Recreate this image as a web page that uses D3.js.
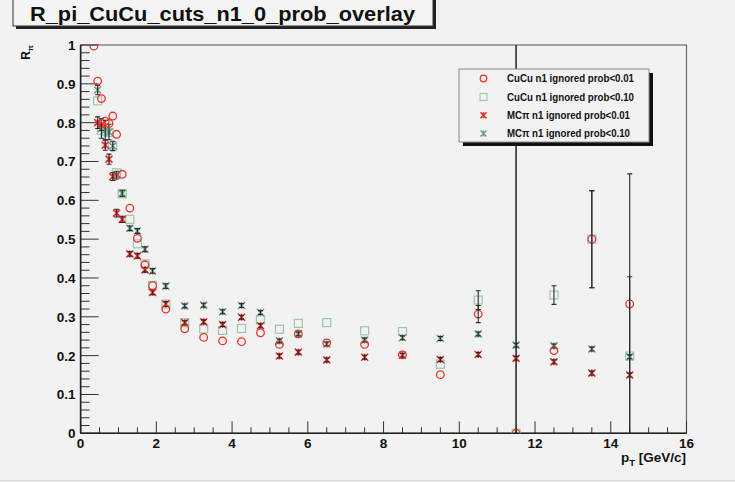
<!DOCTYPE html>
<html><head><meta charset="utf-8">
<script src="https://cdn.jsdelivr.net/npm/d3@7/dist/d3.min.js"></script>
<style>
html,body{margin:0;padding:0;background:#f2f2f2;}
svg{display:block;font-family:"Liberation Sans",Arial,Helvetica,sans-serif;}
</style></head>
<body>
<svg id="c" width="735" height="482"></svg>
<script>
// ---- data ----
const pT = [0.35,0.45,0.55,0.65,0.75,0.85,0.95,1.1,1.3,1.5,1.7,1.9,2.25,2.75,3.25,3.75,4.25,4.75,5.25,5.75,6.5,7.5,8.5,9.5,10.5,11.5,12.5,13.5,14.5];
const cucu01 = [0.997,0.907,0.862,0.804,0.798,0.817,0.770,0.667,0.580,0.502,0.434,0.380,0.320,0.269,0.247,0.238,0.236,0.259,0.229,0.256,0.233,0.229,0.202,0.151,0.307,0.0,0.213,0.500,0.333];
const cucu01Err = [0.01,0.01,0.01,0.01,0.01,0.01,0.01,0.008,0.008,0.008,0.006,0.006,0.006,0.005,0.005,0.005,0.005,0.006,0.006,0.006,0.006,0.006,0.008,0.008,0.022,1.5,0.012,0.125,0.335];
const cucu10 = [null,0.856,0.780,0.778,0.775,0.740,0.671,0.617,0.551,0.488,0.436,0.381,0.333,0.285,0.269,0.265,0.270,0.292,0.268,0.283,0.285,0.264,0.262,0.178,0.343,0.0,0.356,0.500,0.199];
const cucu10Err = [null,0.01,0.01,0.01,0.01,0.01,0.01,0.008,0.008,0.008,0.006,0.006,0.006,0.005,0.005,0.005,0.005,0.006,0.006,0.006,0.006,0.006,0.01,0.008,0.024,1.5,0.024,0.125,0.204];
const mc01 = [null,0.800,0.795,0.742,0.706,0.661,0.567,0.551,0.462,0.457,0.421,0.363,0.333,0.285,0.287,0.280,0.299,0.277,0.199,0.209,0.189,0.196,0.201,0.190,0.203,0.193,0.184,0.155,0.150];
const mc01Err = [null,0.015,0.015,0.013,0.013,0.01,0.01,0.008,0.006,0.006,0.006,0.006,0.006,0.005,0.005,0.005,0.005,0.005,0.005,0.005,0.005,0.005,0.005,0.005,0.005,0.005,0.005,0.005,0.005];
const mc10 = [null,0.884,0.785,0.781,0.776,0.740,0.665,0.618,0.528,0.521,0.474,0.418,0.379,0.328,0.330,0.313,0.329,0.311,0.238,0.256,0.230,0.240,0.246,0.244,0.256,0.227,0.225,0.217,0.197];
const mc10Err = [null,0.012,0.025,0.025,0.02,0.012,0.01,0.008,0.006,0.006,0.006,0.006,0.006,0.005,0.005,0.005,0.005,0.005,0.005,0.005,0.005,0.005,0.005,0.005,0.005,0.005,0.005,0.005,0.005];
const xTicks = [0,2,4,6,8,10,12,14,16];
const yTicks = [0,0.1,0.2,0.3,0.4,0.5,0.6,0.7,0.8,0.9,1];
const yTickLabels = ["0","0.1","0.2","0.3","0.4","0.5","0.6","0.7","0.8","0.9","1"];
const legendLabels = ["CuCu n1 ignored prob<0.01","CuCu n1 ignored prob<0.10","MC\u03c0 n1 ignored prob<0.01","MC\u03c0 n1 ignored prob<0.10"];
const titleText = "R_pi_CuCu_cuts_n1_0_prob_overlay";

// ---- layout ----
const svg = d3.select("#c");
const x = d3.scaleLinear().domain([0,16]).range([80.6,686.5]);
const y = d3.scaleLinear().domain([0,1]).range([433.3,45]);
const RED = "#e8312c", GREEN = "#9cc7ad", GREENDARK = "#6f9c85", BLACK = "#2a2a2a";

svg.append("rect").attr("width",735).attr("height",482).attr("fill","#f2f2f2");

svg.append("rect").attr("x",x(0)).attr("y",y(1)).attr("width",x(16)-x(0)).attr("height",y(0)-y(1))
  .attr("fill","none").attr("stroke","#6a6a6a").attr("stroke-width",1.2);

svg.append("clipPath").attr("id","pc").append("rect")
  .attr("x",x(0)).attr("y",y(1)).attr("width",x(16)-x(0)).attr("height",y(0)-y(1));

const xMinor = d3.range(0,16.01,0.5);
const yMinor = d3.range(0,1.001,0.02);
const g = svg.append("g");
g.selectAll(".xm").data(xMinor).join("line")
  .attr("x1",d=>x(d)).attr("x2",d=>x(d))
  .attr("y1",y(0)).attr("y2",d=> (Math.abs(d/2-Math.round(d/2))<1e-6) ? y(0)-12 : y(0)-6)
  .attr("stroke","#333").attr("stroke-width",1);
g.selectAll(".ym").data(yMinor).join("line")
  .attr("y1",d=>y(d)).attr("y2",d=>y(d))
  .attr("x1",x(0)).attr("x2",d=> (Math.abs(d*10-Math.round(d*10))<1e-6) ? x(0)+18 : x(0)+9)
  .attr("stroke","#333").attr("stroke-width",1);
g.append("line").attr("x1",x(0)).attr("x2",x(16)).attr("y1",y(0)).attr("y2",y(0)).attr("stroke","#222").attr("stroke-width",1.6);
g.append("line").attr("x1",x(0)).attr("x2",x(0)).attr("y1",y(0)).attr("y2",y(1)).attr("stroke","#222").attr("stroke-width",1.6);

g.selectAll(".xl").data(xTicks).join("text")
  .attr("x",d=>x(d)).attr("y",447.5).attr("text-anchor","middle")
  .attr("font-size",13.5).attr("font-weight","bold").attr("fill","#111").text(d=>d);
g.selectAll(".yl").data(yTicks).join("text")
  .attr("x",75.5).attr("y",(d)=>y(d)+5).attr("text-anchor","end")
  .attr("font-size",13.5).attr("font-weight","bold").attr("fill","#111").text((d,i)=>yTickLabels[i]);

const xt = svg.append("text").attr("x",686).attr("y",462).attr("text-anchor","end")
  .attr("font-size",13.5).attr("font-weight","bold").attr("fill","#111");
xt.append("tspan").text("p");
xt.append("tspan").attr("font-size",9.5).attr("dy",4).text("T");
xt.append("tspan").attr("dy",-4).text(" [GeV/c]");
const yt = svg.append("text").attr("transform","translate(30,45) rotate(-90)").attr("text-anchor","end")
  .attr("font-size",12).attr("font-weight","bold").attr("fill","#111");
yt.append("tspan").text("R");
yt.append("tspan").attr("font-size",8).attr("dy",3).text("\u03c0");

function pts(vals, errs){ return pT.map((p,i)=>({p, v:vals[i], e:errs[i]})).filter(d=>d.v!==null); }
const plot = svg.append("g").attr("clip-path","url(#pc)");

function errBars(data, minPx){
  const gg = plot.append("g");
  data.forEach(d=>{
    const cx=x(d.p), yh=y(d.v+d.e), yl=y(d.v-d.e);
    if (yl-yh < minPx) return;
    gg.append("line").attr("x1",cx).attr("x2",cx).attr("y1",yh).attr("y2",yl).attr("stroke",BLACK).attr("stroke-width",1.1);
    gg.append("line").attr("x1",cx-2.5).attr("x2",cx+2.5).attr("y1",yh).attr("y2",yh).attr("stroke",BLACK).attr("stroke-width",1.1);
    gg.append("line").attr("x1",cx-2.5).attr("x2",cx+2.5).attr("y1",yl).attr("y2",yl).attr("stroke",BLACK).attr("stroke-width",1.1);
  });
}
function starPath(cx,cy,r){ return `M${cx-r},${cy-r}L${cx+r},${cy+r}M${cx-r},${cy+r}L${cx+r},${cy-r}M${cx},${cy-r}L${cx},${cy+r}`; }
function drawStars(sel, data, col){
  sel.selectAll(null).data(data).join("path")
    .attr("d",d=>starPath(x(d.p),y(d.v),3.5)).attr("stroke",col).attr("stroke-width",1.6).attr("fill","none");
}
const s01 = pts(cucu01,cucu01Err), s10 = pts(cucu10,cucu10Err), m01 = pts(mc01,mc01Err), m10 = pts(mc10,mc10Err);

plot.append("g").selectAll("rect").data(s10).join("rect")
  .attr("x",d=>x(d.p)-4).attr("y",d=>y(d.v)-4).attr("width",8).attr("height",8)
  .attr("fill","none").attr("stroke",GREEN).attr("stroke-width",1.2);
errBars(s10, 10);
drawStars(plot.append("g"), m10, GREENDARK);
errBars(m10, 0);
drawStars(plot.append("g"), m01, RED);
errBars(m01, 0);
plot.append("g").selectAll("circle").data(s01).join("circle")
  .attr("cx",d=>x(d.p)).attr("cy",d=>y(d.v)).attr("r",3.8)
  .attr("fill","none").attr("stroke",RED).attr("stroke-width",1.3);
errBars(s01, 10);

const L = svg.append("g");
L.append("rect").attr("x",463).attr("y",73).attr("width",190).attr("height",73).attr("fill","#111");
L.append("rect").attr("x",459).attr("y",69).attr("width",190).attr("height",73).attr("fill","#f2f2f2").attr("stroke","#8a8a8a").attr("stroke-width",1);
const rowY = [78.5,97,115.2,133.4];
const lenT = [127,127,123,123];
L.selectAll("text").data(legendLabels).join("text")
  .attr("x",507).attr("y",(d,i)=>rowY[i]+3.5).attr("font-size",10).attr("font-weight","bold").attr("fill","#111")
  .attr("textLength",(d,i)=>lenT[i]).attr("lengthAdjust","spacingAndGlyphs").text(d=>d);
L.append("circle").attr("cx",483.5).attr("cy",rowY[0]).attr("r",3.3).attr("fill","none").attr("stroke",RED).attr("stroke-width",1.2);
L.append("rect").attr("x",480).attr("y",rowY[1]-3.5).attr("width",7).attr("height",7).attr("fill","none").attr("stroke",GREEN).attr("stroke-width",1.1);
L.append("path").attr("d",starPath(483.5,rowY[2],3)).attr("stroke",RED).attr("stroke-width",1.6).attr("fill","none");
L.append("path").attr("d",starPath(483.5,rowY[3],3)).attr("stroke",GREENDARK).attr("stroke-width",1.4).attr("fill","none");

const T = svg.append("g");
T.append("rect").attr("x",16).attr("y",-2).attr("width",420).attr("height",31).attr("fill","#222");
T.append("rect").attr("x",13).attr("y",-4).attr("width",420).attr("height",30).attr("fill","#f4f4f4").attr("stroke","#333").attr("stroke-width",1);
T.append("text").attr("x",30).attr("y",20.5).attr("font-size",20).attr("font-weight","bold").attr("fill","#111")
  .attr("textLength",385).attr("lengthAdjust","spacingAndGlyphs").text(titleText);

svg.append("line").attr("x1",0).attr("x2",735).attr("y1",480.5).attr("y2",480.5).attr("stroke","#d8d8d8");
</script>
</body></html>
